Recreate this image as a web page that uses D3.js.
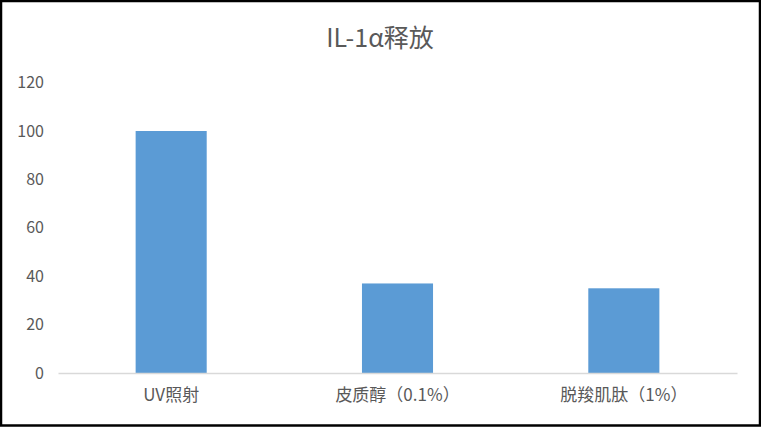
<!DOCTYPE html>
<html><head><meta charset="utf-8">
<script src="https://cdn.jsdelivr.net/npm/d3@7"></script>
<style>body{margin:0;background:#fff;}svg{display:block;}</style>
</head><body>
<svg id="c" width="761" height="427"></svg>
<script>
const categories = ["UV照射", "皮质醇（0.1%）", "脱羧肌肽（1%）"];
const values = [100, 37, 35];
const yTicks = [0, 20, 40, 60, 80, 100, 120];
const title = "IL-1α释放";

const W = 761, H = 427;
const svg = d3.select("#c");
const font = "'Noto Sans CJK SC', 'Noto Sans', sans-serif";
const m = {left: 58, right: 24};
svg.append("rect").attr("x",1).attr("y",1).attr("width",W-2).attr("height",H-2.5)
  .attr("fill","#fff").attr("stroke","#000").attr("stroke-width",2.5);

const x = d3.scaleBand().domain(categories).range([m.left, W-m.right]).paddingInner(0.686).paddingOuter(0.343);
const y = d3.scaleLinear().domain([0,120]).range([373, 82.6]);

svg.append("text").attr("x",380).attr("y",36).attr("text-anchor","middle").attr("dominant-baseline","central")
  .attr("font-family",font).attr("font-size",25).attr("fill","#595959").text(title);

svg.selectAll("rect.bar").data(values).enter().append("rect").attr("class","bar")
  .attr("x",(d,i)=>x(categories[i])).attr("width",x.bandwidth())
  .attr("y",d=>y(d)).attr("height",d=>y(0)-y(d)).attr("fill","#5b9bd5");

const ya = svg.append("g").attr("transform",`translate(${m.left},0)`)
  .call(d3.axisLeft(y).tickValues(yTicks).tickSize(0).tickPadding(14));
ya.select(".domain").remove();
ya.selectAll("text").attr("font-family",font).attr("font-size",16).attr("fill","#595959");

const xa = svg.append("g").attr("transform",`translate(0,${y(0)})`)
  .call(d3.axisBottom(x).tickSize(0).tickPadding(16));
xa.select(".domain").attr("stroke","#d9d9d9").attr("stroke-width",1.5);
xa.selectAll("text").attr("font-family",font).attr("font-size",17).attr("fill","#595959");
</script>
</body></html>
